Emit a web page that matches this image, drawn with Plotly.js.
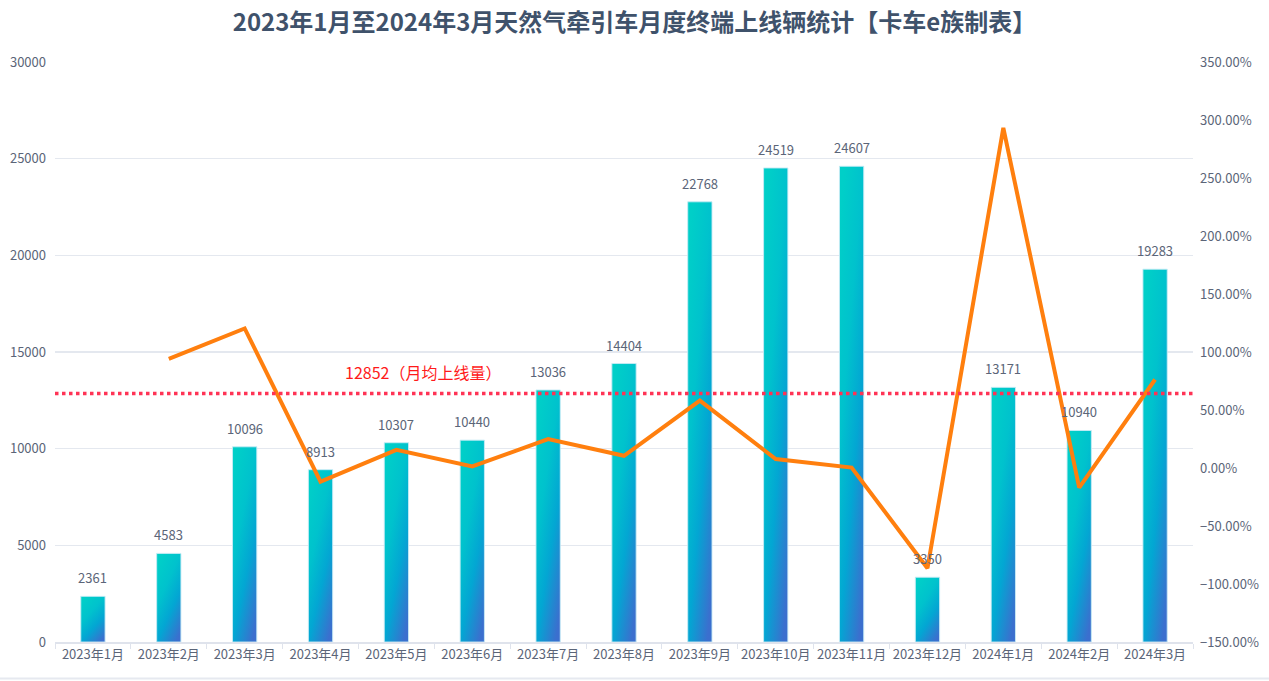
<!DOCTYPE html>
<html>
<head>
<meta charset="utf-8">
<script src="https://cdn.plot.ly/plotly-3.0.1.min.js"></script>
<style>
html,body{margin:0;padding:0;background:#fff;}
#chart{width:1269px;height:681px;}
</style>
</head>
<body>
<div id="chart"></div>
<script>
const months = ['2023年1月','2023年2月','2023年3月','2023年4月','2023年5月','2023年6月','2023年7月','2023年8月','2023年9月','2023年10月','2023年11月','2023年12月','2024年1月','2024年2月','2024年3月'];
const volumes = [2361, 4583, 10096, 8913, 10307, 10440, 13036, 14404, 22768, 24519, 24607, 3350, 13171, 10940, 19283];
const growth = [null, 0.941, 1.203, -0.117, 0.156, 0.013, 0.249, 0.105, 0.581, 0.077, 0.004, -0.864, 2.932, -0.169, 0.763];
const monthlyAverage = 12852;
const averageLabel = '12852（月均上线量）';
const titleText = '2023年1月至2024年3月天然气牵引车月度终端上线辆统计【卡车e族制表】';

const font = '"Noto Sans CJK SC", "Noto Sans", sans-serif';
const tickColor = '#5b6578';

const traces = [
  {
    type: 'bar',
    x: months,
    y: volumes,
    cliponaxis: false,
    marker: {color: '#06b3d0', line: {color: 'rgba(200,235,245,0.9)', width: 1}},
    hoverinfo: 'skip'
  },
  {
    type: 'scatter',
    mode: 'lines',
    x: months,
    y: growth,
    yaxis: 'y2',
    line: {color: '#ff7f0e', width: 4},
    connectgaps: false,
    hoverinfo: 'skip'
  }
];

const barLabels = months.map(function (m, i) {
  return {
    x: m, y: volumes[i], xref: 'x', yref: 'y',
    text: String(volumes[i]),
    showarrow: false,
    yanchor: 'bottom',
    yshift: 7,
    font: {family: font, size: 13, color: tickColor}
  };
});

const layout = {
  width: 1269,
  height: 681,
  margin: {l: 55, r: 76, t: 62, b: 39},
  paper_bgcolor: '#ffffff',
  plot_bgcolor: '#ffffff',
  showlegend: false,
  bargap: 0.68,
  font: {family: font, color: tickColor},
  title: {
    text: titleText,
    x: 0.5, xanchor: 'center', y: 0.967, yanchor: 'middle',
    font: {family: font, size: 24, color: '#3f526b', weight: 'bold'}
  },
  xaxis: {
    type: 'category',
    tickfont: {family: font, size: 13, color: tickColor},
    tickangle: 0,
    showgrid: false,
    showline: true,
    linecolor: '#dfe3ec',
    linewidth: 1.5,
    ticks: 'outside',
    tickson: 'boundaries',
    ticklen: 5,
    tickcolor: '#dfe3ec',
    range: [-0.5, 14.5],
    zeroline: false
  },
  yaxis: {
    range: [0, 30000],
    dtick: 5000,
    tick0: 0,
    tickformat: 'd',
    tickfont: {family: font, size: 13, color: tickColor},
    gridcolor: '#e4e8ef',
    gridwidth: 1.5,
    zeroline: false,
    showline: false,
    ticklabelstandoff: 8,
    fixedrange: true
  },
  yaxis2: {
    overlaying: 'y',
    side: 'right',
    range: [-1.5, 3.5],
    dtick: 0.5,
    tick0: -1.5,
    tickformat: '.2%',
    showgrid: false,
    zeroline: false,
    showline: false,
    tickfont: {family: font, size: 13, color: tickColor},
    ticklabelstandoff: 6
  },
  annotations: barLabels.concat([
    {
      x: 4.35, y: monthlyAverage, xref: 'x', yref: 'y',
      text: averageLabel,
      showarrow: false,
      yanchor: 'bottom',
      yshift: 8,
      font: {family: font, size: 16, color: '#ff1a1a'}
    }
  ]),
  shapes: [
    {type: 'line', xref: 'paper', yref: 'y', x0: 0, x1: 1, y0: monthlyAverage, y1: monthlyAverage,
     line: {color: '#ff3355', width: 3.5, dash: 'dot'}},
    {type: 'line', xref: 'paper', yref: 'paper', x0: -0.06, x1: 1.08, y0: -0.063, y1: -0.063,
     line: {color: '#e6e9f0', width: 2}}
  ]
};

Plotly.newPlot('chart', traces, layout, {displayModeBar: false, staticPlot: true}).then(function (gd) {
  const svgNS = 'http://www.w3.org/2000/svg';
  const svg = gd.querySelector('svg.main-svg');
  let defs = svg.querySelector('defs');
  if (!defs) { defs = document.createElementNS(svgNS, 'defs'); svg.insertBefore(defs, svg.firstChild); }
  const grad = document.createElementNS(svgNS, 'linearGradient');
  grad.setAttribute('id', 'barGrad');
  grad.setAttribute('x1', '0.2'); grad.setAttribute('y1', '0');
  grad.setAttribute('x2', '0.8'); grad.setAttribute('y2', '1');
  [['0', '#00cfc8'], ['0.35', '#00c2cd'], ['0.65', '#03a6d3'], ['1', '#3b6fce']].forEach(function (s) {
    const st = document.createElementNS(svgNS, 'stop');
    st.setAttribute('offset', s[0]);
    st.setAttribute('stop-color', s[1]);
    grad.appendChild(st);
  });
  defs.appendChild(grad);
  gd.querySelectorAll('.barlayer .point path').forEach(function (p) {
    p.style.fill = 'url(#barGrad)';
  });
});
</script>
</body>
</html>
